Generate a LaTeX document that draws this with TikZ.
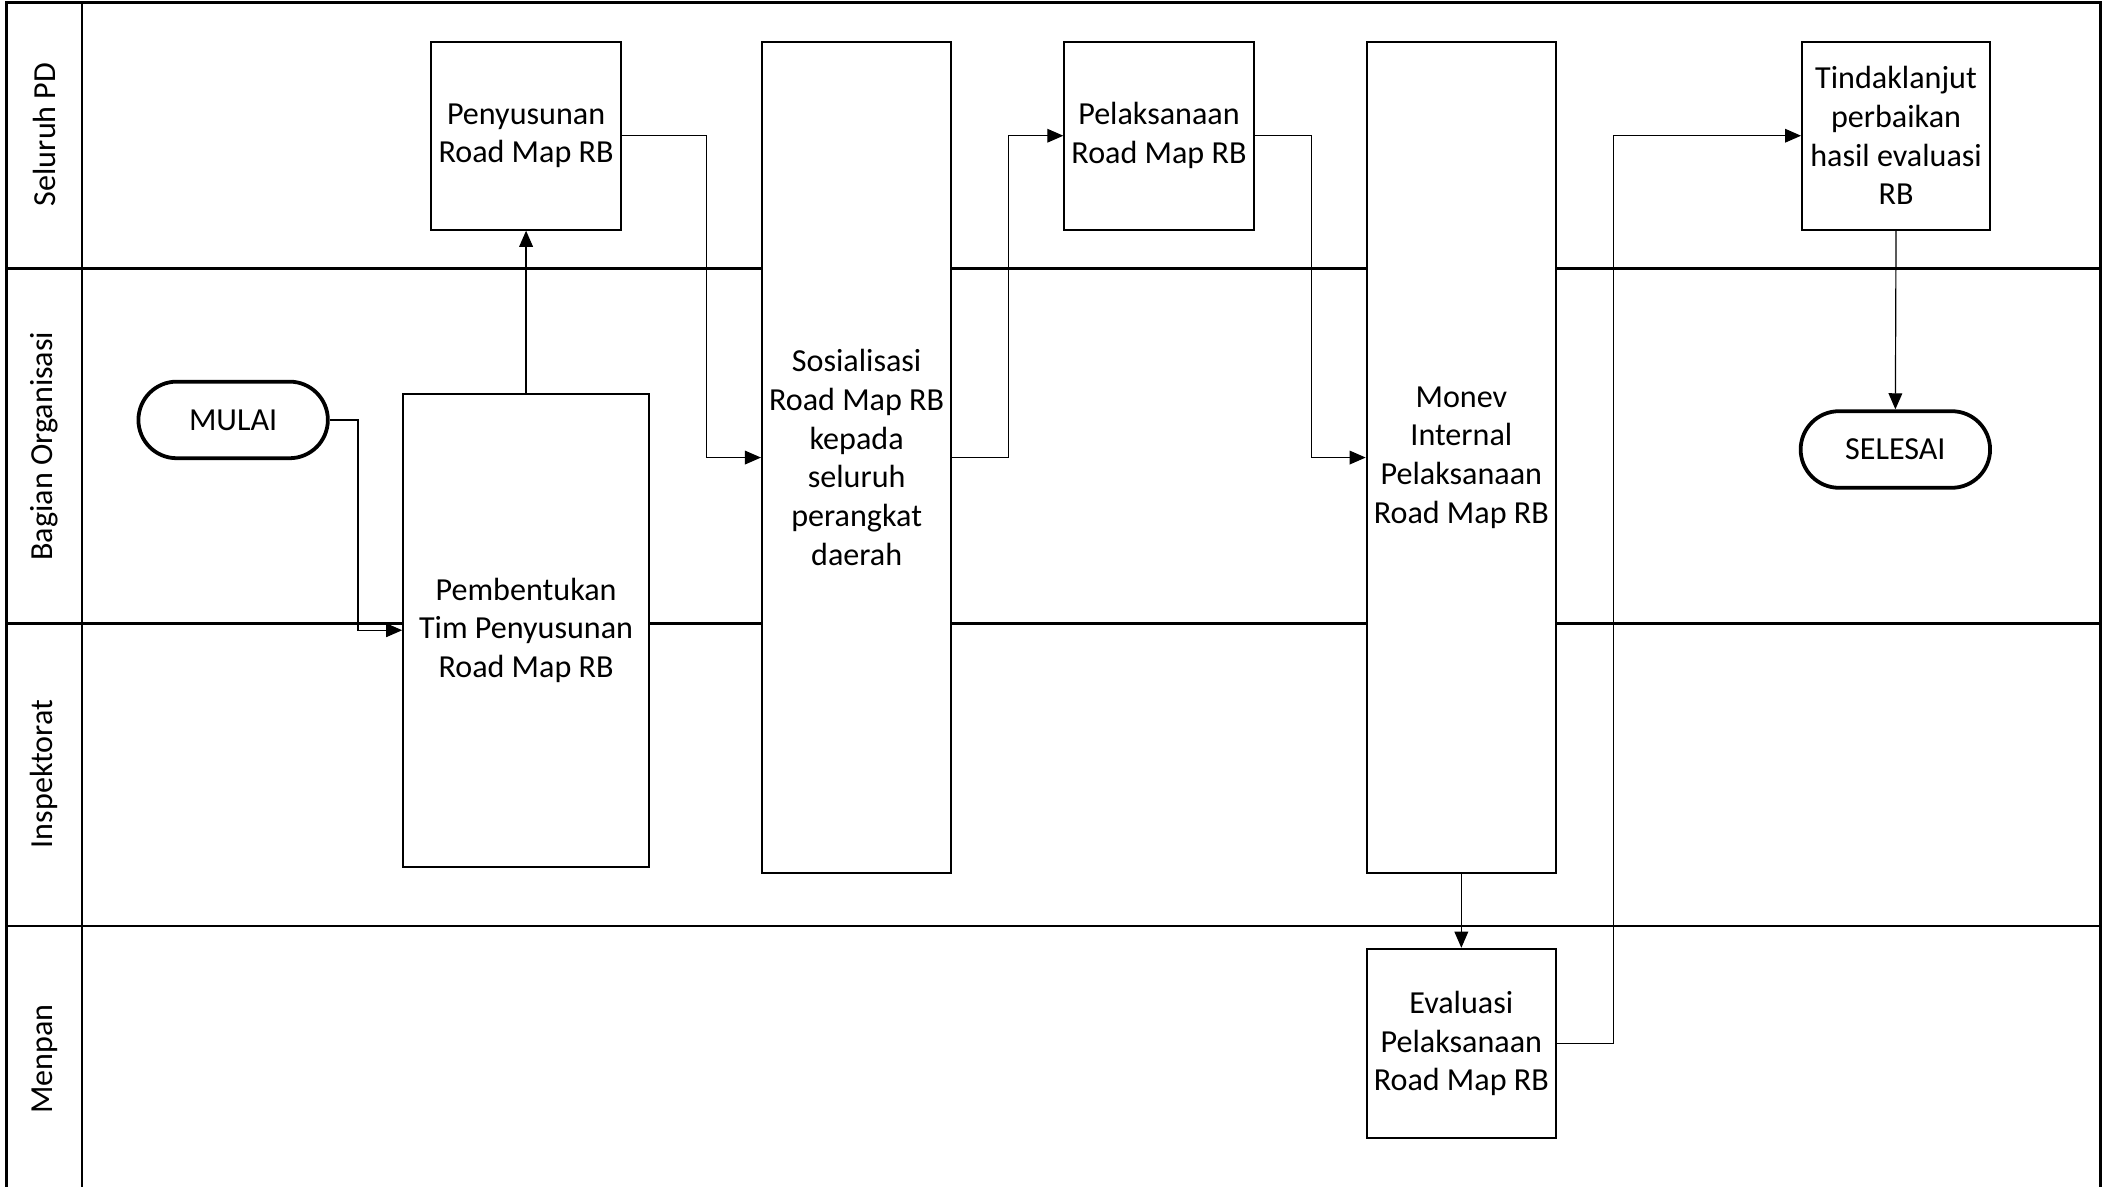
\documentclass[tikz,border=0pt]{standalone}
\usepackage{fontspec}
\setmainfont{Carlito}
\usepackage{tikz}
\usetikzlibrary{arrows.meta}
\usetikzlibrary{positioning}
\usetikzlibrary{calc}
\tikzset{
proses/.style = {draw, fill=white, line width=0.8pt, align=center,
                 inner sep=1pt, font=\fontsize{13.6}{16.4}\selectfont},
terminal/.style = {draw, fill=white, line width=1.6pt, rounded corners=0.57cm,
                   minimum width=2.82cm, minimum height=1.14cm,
                   font=\fontsize{13.6}{16.4}\selectfont},
lanetext/.style = {rotate=90, font=\fontsize{13.6}{16.4}\selectfont},
alur/.style = {line width=0.5pt, -{Triangle[length=6.8pt, width=5.8pt]}},
lajur/.style = {line width=1.1pt}
}
\newcommand{\lanelabel}[3]{\node[lanetext] (#1) at (#2) {#3};}

\begin{document}
\begin{tikzpicture}[x=0.02cm, y=-0.02cm]
        \useasboundingbox (0,0) rectangle (1568,883);
        % lajur
        \draw[lajur] (5,883) -- (5,2) -- (1563,2) -- (1563,883);
        \draw[lajur] (61,2) -- (61,883);
        \foreach \y in {200,464,689}
            \draw[lajur] (5,\y) -- (1563,\y);
        \lanelabel{pd}{33,100}{Seluruh PD};
        \lanelabel{org}{33,332}{Bagian Organisasi};
        \lanelabel{insp}{33,576}{Inspektorat};
        \lanelabel{menpan}{33,788}{Menpan};
        % langkah
        \node[terminal] (mulai) at (173.5,312.5) {MULAI};
        \node[proses, minimum width=3.66cm, minimum height=7.04cm] (bentuk) at (391.5,469)
            {Pembentukan\\Tim Penyusunan\\Road Map RB};
        \node[proses, minimum width=2.82cm, minimum height=2.8cm] (susun) at (391.5,101)
            {Penyusunan\\Road Map RB};
        \node[proses, minimum width=2.82cm, minimum height=12.38cm] (sosial) at (637.5,340.5)
            {Sosialisasi\\Road Map RB\\kepada\\seluruh\\perangkat\\daerah};
        \node[proses, minimum width=2.82cm, minimum height=2.8cm] (laksana) at (862.5,101)
            {Pelaksanaan\\Road Map RB};
        \node[proses, minimum width=2.82cm, minimum height=12.38cm] (monev) at (1087.5,340.5)
            {Monev\\Internal\\Pelaksanaan\\Road Map RB};
        \node[proses, minimum width=2.82cm, minimum height=2.82cm] (evaluasi) at (1087.5,776.5)
            {Evaluasi\\Pelaksanaan\\Road Map RB};
        \node[proses, minimum width=2.8cm, minimum height=2.8cm] (tindak) at (1411,101)
            {Tindaklanjut\\perbaikan\\hasil evaluasi\\RB};
        \node[terminal] (selesai) at (1410.5,334.5) {SELESAI};
        % alur
        \draw[alur] (mulai.east) -- ++(21,0) |- (bentuk.west);
        \draw[alur] (bentuk.north) -- (susun.south);
        \draw[alur] (susun.east) -- ++(63,0) |- (sosial.west);
        \draw[alur] (sosial.east) -- ++(42,0) |- (laksana.west);
        \draw[alur] (laksana.east) -- ++(42,0) |- (monev.west);
        \draw[alur] (monev.south) -- (evaluasi.north);
        \draw[alur] (evaluasi.east) -- ++(42,0) |- (tindak.west);
        \draw[alur] (tindak.south) -- (selesai.north);
\end{tikzpicture}
\end{document}
